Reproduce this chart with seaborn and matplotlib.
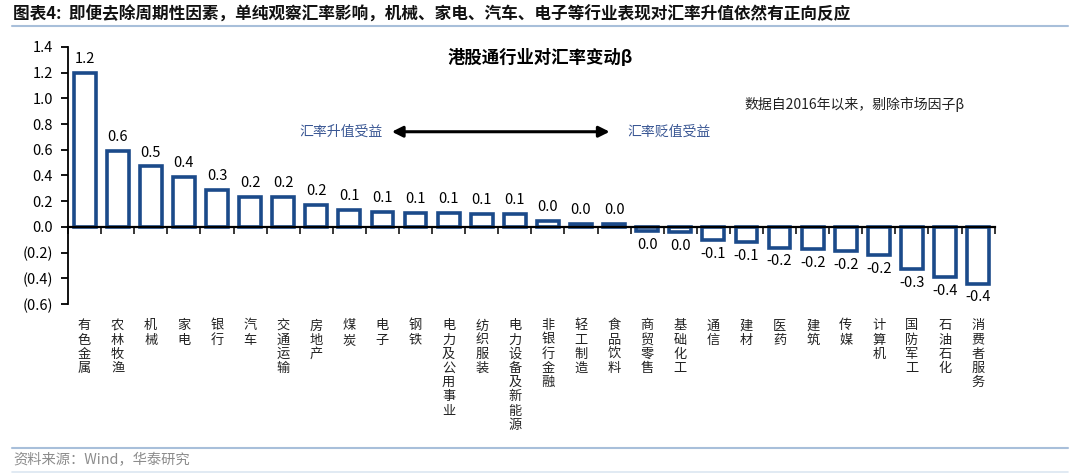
import matplotlib
matplotlib.use("Agg")
import matplotlib.pyplot as plt
import seaborn as sns
import pandas as pd
from matplotlib.ticker import FuncFormatter, FixedLocator

categories = ["有色金属", "农林牧渔", "机械", "家电", "银行", "汽车", "交通运输", "房地产",
              "煤炭", "电子", "钢铁", "电力及公用事业", "纺织服装", "电力设备及新能源",
              "非银行金融", "轻工制造", "食品饮料", "商贸零售", "基础化工", "通信", "建材",
              "医药", "建筑", "传媒", "计算机", "国防军工", "石油石化", "消费者服务"]
beta = [1.20, 0.59, 0.47, 0.39, 0.29, 0.23, 0.23, 0.17,
        0.13, 0.12, 0.11, 0.11, 0.10, 0.10,
        0.045, 0.02, 0.02, -0.03, -0.04, -0.10, -0.12,
        -0.16, -0.17, -0.19, -0.22, -0.33, -0.39, -0.44]
yticks = [-0.6, -0.4, -0.2, 0.0, 0.2, 0.4, 0.6, 0.8, 1.0, 1.2, 1.4]

BAR = "#1B4A8A"
BLUE_TXT = "#3A5794"
LINE = "#A8BFDA"

sns.set_theme(style="white")
plt.rcParams["font.family"] = ["Noto Sans CJK SC", "DejaVu Sans"]
plt.rcParams["axes.unicode_minus"] = False

fig = plt.figure(figsize=(10.8, 4.73), dpi=100)
ax = fig.add_axes([0.063, 0.357, 0.858, 0.544])

df = pd.DataFrame({"cat": categories, "beta": beta})
sns.barplot(data=df, x="cat", y="beta", color="white", edgecolor=BAR, linewidth=2.6,
            width=0.66, saturation=1, ax=ax, errorbar=None)

ax.set_xlim(-0.5, len(categories) - 0.5)
ax.set_ylim(-0.6, 1.4)
ax.set_xlabel("")
ax.set_ylabel("")

for s in ["top", "right"]:
    ax.spines[s].set_visible(False)
ax.spines["left"].set_color("black")
ax.spines["left"].set_linewidth(1.3)
ax.spines["bottom"].set_position(("data", 0))
ax.spines["bottom"].set_color("black")
ax.spines["bottom"].set_linewidth(1.6)
ax.spines["bottom"].set_zorder(5)

ax.yaxis.set_major_locator(FixedLocator(yticks))
ax.yaxis.set_major_formatter(FuncFormatter(lambda v, p: f"({abs(v):.1f})" if v < -1e-9 else f"{v:.1f}"))
ax.tick_params(axis="y", direction="out", length=5, width=1.3, left=True, labelsize=10.5, pad=6, colors="black")
bounds = [i - 0.5 for i in range(len(categories) + 1)]
ax.xaxis.set_major_locator(FixedLocator(bounds))
ax.set_xticklabels([""] * len(bounds))
ax.tick_params(axis="x", direction="out", length=5, width=1.3, bottom=True, labelbottom=False)
ax.grid(False)

def fmt(v):
    s = f"{v:.1f}"
    return "0.0" if s == "-0.0" else s

for cont in ax.containers:
    ax.bar_label(cont, labels=[fmt(v) for v in beta], padding=5, fontsize=10.5, color="black")

for i, c in enumerate(categories):
    ax.annotate("\n".join(c), xy=(i, 0), xycoords=ax.get_xaxis_transform(),
                xytext=(0, -11), textcoords="offset points", ha="center", va="top",
                fontsize=9.5, linespacing=1.12, color="#222222")

ax.text(0.51, 0.955, "港股通行业对汇率变动β", transform=ax.transAxes, ha="center", va="center",
        fontsize=12.5, fontweight="bold", color="black")
ax.text(0.968, 0.775, "数据自2016年以来，剔除市场因子β", transform=ax.transAxes, ha="right",
        va="center", fontsize=10, color="#222222")
ax.annotate("", xy=(9.2, 0.74), xytext=(15.95, 0.74),
            arrowprops=dict(arrowstyle="<|-|>", color="black", lw=2.2, mutation_scale=16))
ax.text(9.0, 0.74, "汇率升值受益", ha="right", va="center", fontsize=10, color=BLUE_TXT,
        style="italic")
ax.text(16.4, 0.74, "汇率贬值受益", ha="left", va="center", fontsize=10, color=BLUE_TXT,
        style="italic")

fig.text(0.012, 0.968, "图表4:  即便去除周期性因素，单纯观察汇率影响，机械、家电、汽车、电子等行业表现对汇率升值依然有正向反应",
         ha="left", va="center", fontsize=12, fontweight="bold", color="#111111")
fig.add_artist(plt.Line2D([0.011, 0.989], [0.946, 0.946], transform=fig.transFigure, color=LINE, lw=1.5))
fig.add_artist(plt.Line2D([0.011, 0.989], [0.053, 0.053], transform=fig.transFigure, color=LINE, lw=1.5))
fig.add_artist(plt.Line2D([0.011, 0.989], [0.003, 0.003], transform=fig.transFigure, color="#DCE6F1", lw=1.2))
fig.text(0.012, 0.027, "资料来源：Wind，华泰研究", ha="left", va="center", fontsize=10.3, color="#8C8C8C")

fig.savefig("out.png", dpi=100)
